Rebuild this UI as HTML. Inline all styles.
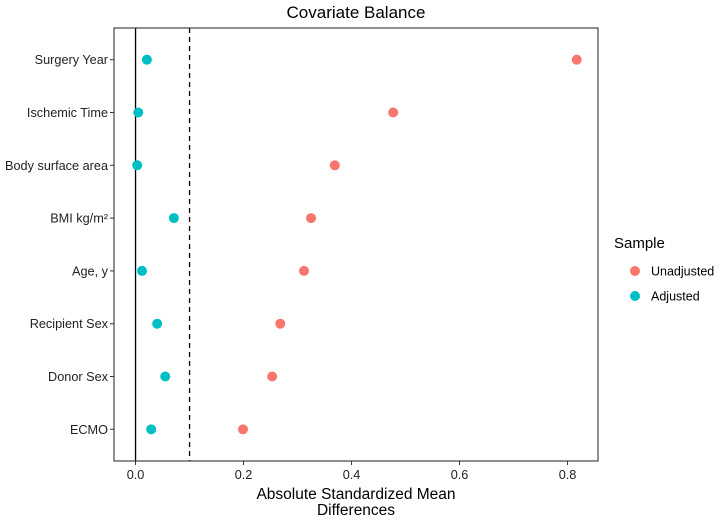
<!DOCTYPE html>
<html><head><meta charset="utf-8"><style>
body{margin:0;background:#fff}
svg text{font-family:"Liberation Sans",Arial,sans-serif}
</style></head><body>
<svg id="chart" width="722" height="516" xmlns="http://www.w3.org/2000/svg">
<text x="356" y="18" font-size="17" text-anchor="middle" fill="#000">Covariate Balance</text>
<g id="plot"></g>
<text x="356" y="499" font-size="15.5" text-anchor="middle">Absolute Standardized Mean</text>
<text x="356" y="515" font-size="15.5" text-anchor="middle">Differences</text>
<g>
<text x="614" y="248" font-size="15">Sample</text>
<circle cx="635" cy="271" r="5" fill="#F8766D"/>
<text x="651" y="275.5" font-size="12.5">Unadjusted</text>
<circle cx="635" cy="296" r="5" fill="#00BFC4"/>
<text x="651" y="300.5" font-size="12.5">Adjusted</text>
</g>
</svg>
<script>
const categories=["Surgery Year","Ischemic Time","Body surface area","BMI kg/m²","Age, y","Recipient Sex","Donor Sex","ECMO"];
const unadjusted=[0.817,0.477,0.369,0.325,0.312,0.268,0.253,0.199];
const adjusted=[0.021,0.005,0.003,0.071,0.012,0.04,0.055,0.029];
const xTicks=[0,0.2,0.4,0.6,0.8];
const xTickLabels=["0.0","0.2","0.4","0.6","0.8"];
const threshold=0.1;

const L=114,R=598,T=28,B=461;
const x0=-0.0399,x1=x0+(R-L)/540;
const X=v=>L+(v-x0)/(x1-x0)*(R-L);
const step=(B-T)/(categories.length-1+1.2);
const Y=i=>T+step*(0.6+i);
const NS="http://www.w3.org/2000/svg";
const g=document.getElementById('plot');
function mk(t,a){const e=document.createElementNS(NS,t);for(const k in a)e.setAttribute(k,a[k]);g.appendChild(e);return e;}
let e;
e=mk('line',{x1:X(0),x2:X(0),y1:T,y2:B,stroke:'#000','stroke-width':1.3});


e=mk('line',{x1:X(threshold),x2:X(threshold),y1:T,y2:B,stroke:'#000','stroke-width':1.3,'stroke-dasharray':'5,4'});


categories.forEach((c,i)=>{
  const y=Y(i);
  e=mk('line',{x1:L-4,x2:L,y1:y,y2:y,stroke:'#333'});
  
  
  e=mk('text',{x:L-6,y:y+4.5,'font-size':12.7,'text-anchor':'end',fill:'#222'});
  e.textContent=c;
  
  
  e=mk('circle',{cx:X(unadjusted[i]),cy:y,r:5,fill:'#F8766D'});
  
  
  e=mk('circle',{cx:X(adjusted[i]),cy:y,r:5,fill:'#00BFC4'});
  
  
});
xTicks.forEach((t,i)=>{
  e=mk('line',{x1:X(t),x2:X(t),y1:B,y2:B+4,stroke:'#333'});
  
  
  e=mk('text',{x:X(t),y:B+18,'font-size':12.7,'text-anchor':'middle',fill:'#222'});
  e.textContent=xTickLabels[i];
  
  
});
e=mk('rect',{x:L,y:T,width:R-L,height:B-T,fill:'none',stroke:'#333','stroke-width':1.1});


</script>
</body></html>
